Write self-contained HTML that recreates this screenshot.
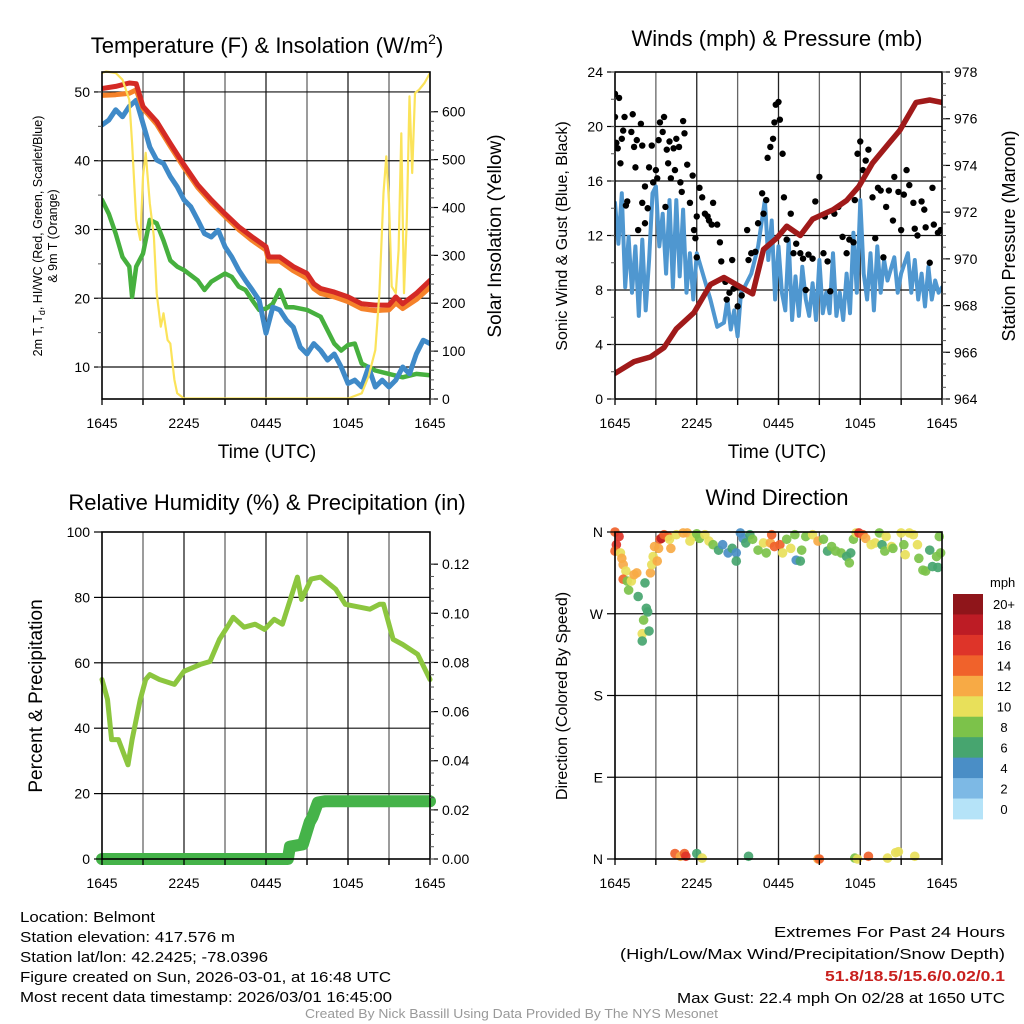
<!DOCTYPE html>
<html><head><meta charset="utf-8"><style>
html,body{margin:0;padding:0;background:#fff}
svg{display:block;font-family:"Liberation Sans",Arial,sans-serif}
</style></head><body>
<svg id="fig" width="1024" height="1024" viewBox="0 0 1024 1024" xmlns="http://www.w3.org/2000/svg">
<rect width="1024" height="1024" fill="#fff"/>
<g id="layer"></g>
<text x="267" y="53" text-anchor="middle" font-size="22">Temperature (F) &amp; Insolation (W/m<tspan font-size="14" dy="-9">2</tspan><tspan dy="9">)</tspan></text>
<text x="777" y="46" text-anchor="middle" font-size="22">Winds (mph) &amp; Pressure (mb)</text>
<text x="267" y="510" text-anchor="middle" font-size="22">Relative Humidity (%) &amp; Precipitation (in)</text>
<text x="777" y="505" text-anchor="middle" font-size="22">Wind Direction</text>
<text x="267" y="458" text-anchor="middle" font-size="19">Time (UTC)</text>
<text x="777" y="458" text-anchor="middle" font-size="19">Time (UTC)</text>
<text transform="translate(42,236) rotate(-90)" text-anchor="middle" font-size="12.5">2m T, T<tspan font-size="9" dy="3">d</tspan><tspan dy="-3">, HI/WC (Red, Green, Scarlet/Blue)</tspan></text>
<text transform="translate(57,236) rotate(-90)" text-anchor="middle" font-size="12.5">&amp; 9m T (Orange)</text>
<text transform="translate(501,236) rotate(-90)" text-anchor="middle" font-size="19">Solar Insolation (Yellow)</text>
<text transform="translate(567,236) rotate(-90)" text-anchor="middle" font-size="16">Sonic Wind &amp; Gust (Blue, Black)</text>
<text transform="translate(1015,236) rotate(-90)" text-anchor="middle" font-size="18">Station Pressure (Maroon)</text>
<text transform="translate(42,696) rotate(-90)" text-anchor="middle" font-size="19">Percent &amp; Precipitation</text>
<text transform="translate(567,696) rotate(-90)" text-anchor="middle" font-size="16">Direction (Colored By Speed)</text>
<g font-size="15">
<text x="20" y="922" textLength="135" lengthAdjust="spacingAndGlyphs">Location: Belmont</text>
<text x="20" y="942" textLength="215" lengthAdjust="spacingAndGlyphs">Station elevation: 417.576 m</text>
<text x="20" y="962" textLength="248" lengthAdjust="spacingAndGlyphs">Station lat/lon: 42.2425; -78.0396</text>
<text x="20" y="982" textLength="371" lengthAdjust="spacingAndGlyphs">Figure created on Sun, 2026-03-01, at 16:48 UTC</text>
<text x="20" y="1002" textLength="372" lengthAdjust="spacingAndGlyphs">Most recent data timestamp: 2026/03/01 16:45:00</text>
</g>
<g font-size="15" text-anchor="end">
<text x="1005" y="937" textLength="231" lengthAdjust="spacingAndGlyphs">Extremes For Past 24 Hours</text>
<text x="1005" y="959" textLength="385" lengthAdjust="spacingAndGlyphs">(High/Low/Max Wind/Precipitation/Snow Depth)</text>
<text x="1005" y="981" fill="#c8201e" font-weight="bold" textLength="180" lengthAdjust="spacingAndGlyphs">51.8/18.5/15.6/0.02/0.1</text>
<text x="1005" y="1003" textLength="328" lengthAdjust="spacingAndGlyphs">Max Gust: 22.4 mph On 02/28 at 1650 UTC</text>
</g>
<text x="305" y="1018" font-size="12.5" fill="#999" textLength="413" lengthAdjust="spacingAndGlyphs">Created By Nick Bassill Using Data Provided By The NYS Mesonet</text>
</svg>
<script>
// ---------- DATA ----------
const timeTicks = ["1645","2245","0445","1045","1645"];
const tempTicks = [10,20,30,40,50];
const solarTicks = [0,100,200,300,400,500,600];
const windTicks = [0,4,8,12,16,20,24];
const presTicks = [964,966,968,970,972,974,976,978];
const rhTicks = [0,20,40,60,80,100];
const precipTicks = [0,0.02,0.04,0.06,0.08,0.10,0.12];
const precipTickLabels = ["0.00","0.02","0.04","0.06","0.08","0.10","0.12"];
const dirTicks = [0,90,180,270,360];
const dirTickLabels = ["N","E","S","W","N"];
const speedBins = ["0","2","4","6","8","10","12","14","16","18","20+"];
const speedColors = ["#b5e3f8","#7db9e5","#4a8ec6","#47a56f","#7cc24a","#e8e05a","#f7aa45","#f0622b","#de3429","#bd1c25","#8f151a"];

const tempH = [0,1,2,2.5,3,4,5,6,7,8,9,10,11,12,12.2,13,14,15,15.5,16,17,18,19,20,21,21.5,22,23,24];
const tempT = [50.5,50.8,51.3,51.2,47.9,45.7,42.5,39.4,36.5,34.3,32.3,30.4,28.9,27.5,26,26,24.6,23.6,22.1,21.4,20.9,20.2,19.2,19,19,20.2,19.2,20.7,22.6];
const temp9 = [49.5,49.6,49.8,50.3,47.6,45.3,42.1,39.0,36.1,33.9,31.9,30.0,28.4,27.0,25.4,25.4,24.0,22.9,21.4,20.7,20.2,19.5,18.5,18.2,18.3,19.3,18.5,19.8,21.6];
const hiH = [0,0.5,1,1.5,2,2.5,3,3.5,4,4.5,5,5.5,6,6.5,7,7.5,8,8.5,9,9.5,10,10.5,11,11.5,12,12.5,13,13.5,14,14.5,15,15.5,16,16.5,17,17.5,18,18.5,19,19.5,20,20.5,21,21.5,22,22.5,23,23.5,24];
const hiWC = [45.2,45.9,47.4,46.4,47.9,48.8,45.4,42,40.1,39.6,37.7,36.2,34.3,33.3,31.4,29.4,28.9,29.9,27.5,26,24.1,22.6,21.2,19.7,14.9,18.7,18.3,16.8,15.8,12.9,11.9,13.4,12.4,11,11.9,10,7.6,8.1,7.1,10,7.1,8.1,7.1,8.1,10,9,11.9,13.9,13.4];
const tdH = [0,0.5,1,1.5,2,2.2,2.5,3,3.5,4,4.5,5,5.5,6,7,7.5,8,9,9.5,10,10.5,11,11.5,12,12.5,13,13.5,14,15,16,17,17.5,18,18.5,19,20,21,22,23,24];
const tdT = [34.3,32.3,29.4,26,24.6,20.2,24.6,26.5,31.4,30.9,28.4,25.5,24.6,24.1,22.6,21.2,22.4,23.6,23.1,21.7,21.2,19.7,18.3,18.5,19.2,21.2,18.7,18.7,18.3,17.3,13.4,12.4,13.2,13.4,10.5,9.5,9,8.5,9,8.8];
const solH = [0,0.3,1,1.5,2,2.2,2.5,2.8,3,3.2,3.5,3.8,4,4.3,4.5,4.8,5,5.3,5.5,6,18,19,19.5,20,20.3,20.6,20.8,21,21.2,21.5,21.7,21.9,22.1,22.3,22.5,22.7,22.9,23.2,23.6,24];
const solW = [681,684,681,667,625,534,374,332,465,514,409,339,221,151,179,123,116,40,12,1,1,12,47,102,221,430,507,409,235,221,311,555,221,374,632,472,639,646,660,681];

const windH = [0,0.25,0.5,0.75,1,1.25,1.5,1.75,2,2.25,2.5,2.75,3,3.25,3.5,3.75,4,4.25,4.5,4.75,5,5.25,5.5,5.75,6,6.5,7,7.5,8,8.25,8.5,8.75,9,9.25,9.5,10,10.5,11,11.25,11.5,11.75,12,12.25,12.5,12.75,13,13.25,13.5,13.75,14,14.25,14.5,14.75,15,15.25,15.5,15.75,16,16.25,16.5,16.75,17,17.25,17.5,17.75,18,18.25,18.5,18.75,19,19.25,19.5,19.75,20,20.5,20.75,21,21.5,21.75,22,22.25,22.5,22.75,23,23.25,23.5,23.75,24];
const windS = [14.4,11.4,15.1,8.2,11.9,7.8,11.2,6.1,11.7,6.5,10.2,15.1,15.6,11.2,13.6,9.2,14.6,8.2,14.6,9,13.9,7.8,10.7,7.3,10.7,9,7.3,5.3,5.6,7.3,5.1,6.5,4.6,7.8,8.2,9.2,11.2,14.6,10.2,13.1,7.3,11.2,7.8,6.5,11.7,5.8,9,6.1,9.7,7.3,6.1,8.5,5.8,10.2,6.3,7.8,6.3,10.7,6.1,7.8,5.8,9.2,6.3,12.2,7.8,14.6,9.2,7.3,10.7,6.5,11.2,7.8,10.2,8.7,10.4,7.8,9.2,10.7,7.8,10.2,7.3,9.2,6.8,9.7,7.3,8.7,7.8,8.2];
const gustH = [0,0.3,0,0.1,0.2,0.4,0.5,0.6,0.7,0.8,0.9,1.2,1.3,1.4,1.5,1.6,1.7,1.9,2,2,2.2,2.2,2.4,2.5,2.7,2.8,3,3.1,3.2,3.3,3.5,3.6,3.7,3.8,3.9,4,4.1,4.3,4.4,4.5,4.7,4.8,4.9,5,5.1,5.3,5.5,5.7,5.8,5.9,6,6,6.2,6.4,6.6,6.8,6.9,7.1,7.2,7.5,7.7,7.8,8.1,8.2,8.4,8.6,8.7,8.9,9,9.3,9.7,9.8,10,10.3,10.5,10.8,10.9,11.1,11.2,11.4,11.6,11.7,11.8,12,12.1,12.3,12.4,12.6,12.9,13.1,13.3,13.6,13.8,14,14.2,14.5,14.7,15,15.3,15.4,15.6,15.8,16.1,16.4,16.7,17,17.2,17.5,17.6,17.8,18,18.2,18.4,18.6,18.9,19.1,19.3,19.5,19.7,19.9,20.1,20.4,20.5,20.8,21,21.2,21.4,21.6,21.9,22,22.2,22.5,22.7,22.8,23.1,23.3,23.4,23.7,23.9];
const gustS = [22.4,22.1,20.7,18.8,18.4,17.3,19.1,19.7,20.7,14.2,14.5,19.6,20.9,18.5,17,19,12.4,20.2,14.4,18.6,12.9,15.6,14,17,18.6,15.9,16.8,16.2,19,20.3,19.6,20.7,14.1,18.3,17.3,18.9,16.2,18.4,16.8,19.1,18.5,15.9,15.2,20.4,19.5,17.2,14.4,16.4,12.4,11.8,13.4,10.4,15.5,14.8,13.6,13.4,13.1,12.8,14.4,12.8,11.5,10.1,8.6,7.3,7.8,10.2,8.1,8.2,6.8,7.6,12.4,10.2,10.7,10.8,12.9,15.1,13.6,14.6,17.7,18.5,19.1,20.3,21.6,21.8,20.5,18,14.8,11.7,13.6,10.7,11.4,10.7,10.3,8,10.6,10.3,14.5,16.3,10.7,13.4,10.1,7.9,13.6,14.1,11.9,10.7,11.7,11.5,14.6,18,18.9,16.8,17.5,18.3,14.8,11.8,15.5,15.3,10.4,14.1,15.3,13.1,16.3,15.2,12.4,15,16.8,15.7,14.4,12.5,12,14.5,13.9,12.6,10,15.5,12.8,12.2,12.4];
const presH = [0,1.4,2.6,3.6,4.5,5.8,7,8,9.2,10.1,10.9,11.9,12.6,13.6,14.5,16,17,17.9,18.9,19.9,20.9,22.1,23.1,24];
const presMb = [965.1,965.6,965.8,966.2,967,967.7,968.9,969.2,968.8,968.5,970.4,970.9,971.4,971,971.7,972.1,972.5,973.1,974.1,974.8,975.5,976.7,976.8,976.7];

const rhH = [0,0.4,0.7,1.2,1.9,2.2,2.8,3.2,3.5,4.2,5.3,6.0,7.2,7.9,8.6,9.3,9.6,10.4,11.2,11.9,12.6,13.2,13.9,14.3,14.6,15.3,16.0,17.1,17.8,19.6,20.3,20.6,21.3,22.0,23.1,24];
const rhPct = [54.9,48.8,36.5,36.5,28.8,36.5,48.8,54.9,56.4,54.9,53.4,57.4,59.5,60.4,67.2,71.8,73.9,70.9,71.8,70.2,73.3,71.8,81,86.2,79.4,85.6,86.2,82.5,77.9,76.4,77.9,77.9,67.2,65.6,62.6,54.9];
const prH = [0,13.6,13.75,14.7,15.2,15.4,15.8,16.3,24];
const prIn = [0,0,0.005,0.006,0.015,0.017,0.023,0.0235,0.0235];

const dirH = [0,0.3,0.1,0,0.4,0.5,0.6,0.8,0.6,0.9,1,1.2,1.4,1.6,1.7,2.2,2.3,2.4,2.1,2,2,2.5,2.6,2.7,2.8,2.9,3.1,3.2,3.3,3.4,3.6,3.9,4.1,4,4.5,5,5.3,5.5,5.8,6,6.2,6.6,6.9,7.2,7.6,7.9,8.3,8.6,8.9,8.9,9.2,9.4,9.6,9.9,10.1,10.5,10.9,11.1,11.4,11.5,11.7,12.1,12.3,12.6,12.9,13.2,13.3,13.6,13.7,14,14.5,14.9,15.3,15.6,15.9,16.2,16.6,17,17.2,17.3,17.5,17.7,17.9,18.2,18.4,18.8,19.1,19.4,19.6,19.8,19.9,20.3,20.4,21,21.2,21.3,21.6,21.9,22.2,22.3,22.6,22.8,23.1,23.3,23.6,23.7,23.8,23.9,4.4,4.8,5.1,5.2,6,6.4,9.8,14.9,15,17.6,17.8,18.6,20,20.6,20.8,22];
const dirDeg = [360,355,346,339,337,331,324,317,308,306,296,306,313,315,289,304,276,272,263,248,240,251,315,324,333,344,328,342,352,353,357,355,342,352,357,359,359,350,355,358,353,357,350,346,340,346,337,342,337,328,359,353,348,357,352,340,348,337,348,357,344,346,337,352,342,357,329,328,340,355,357,350,352,339,344,339,337,333,326,337,352,359,359,357,353,346,348,359,346,339,355,344,342,359,346,335,359,357,346,331,318,317,340,322,333,321,355,337,6,3,6,3,6,1,3,0,0,1,0,3,1,7,8,3];
const dirSpd = [15,16,16,15,10,12,12,10,15,9,8,10,12,12,7,6,6,6,8,10,6,6,12,10,10,12,12,12,14,18,15,15,12,10,10,12,12,10,10,8,8,10,10,8,6,4,4,6,4,6,4,4,6,6,8,8,10,8,12,15,14,15,10,8,10,8,4,6,8,8,10,12,8,6,8,8,8,6,8,6,8,10,16,15,12,10,10,8,6,8,10,10,8,10,8,10,10,10,10,8,8,8,6,6,8,6,8,8,15,12,15,16,6,10,6,12,14,8,10,14,10,10,10,10];

// ---------- DRAWING ----------
const NS = "http://www.w3.org/2000/svg";
const layer = document.getElementById('layer');
function mk(tag, attrs, parent){ const e=document.createElementNS(NS,tag); for(const k in attrs) e.setAttribute(k,attrs[k]); (parent||layer).appendChild(e); return e; }
function lin(d0,d1,r0,r1){ return v => r0 + (v-d0)/(d1-d0)*(r1-r0); }

const P1={x0:102,x1:430,y0:72,y1:399}, P2={x0:615,x1:942,y0:72,y1:399}, P3={x0:102,x1:430,y0:532,y1:859}, P4={x0:615,x1:942,y0:532,y1:859};

function frame(P, name, hTicks, yScale){
  const g = mk('g',{});
  
  
  const xs = lin(0,24,P.x0,P.x1);
  for(let h=3; h<24; h+=3){
    mk('line',{x1:xs(h),x2:xs(h),y1:P.y0,y2:P.y1+6,stroke:(h%6===0)?'#222':'#666','stroke-width':1.3},g);
  }
  hTicks.forEach(v=>{ const y=yScale(v); if(y>P.y0+1 && y<P.y1-1) mk('line',{x1:P.x0,x2:P.x1,y1:y,y2:y,stroke:'#111','stroke-width':1.2},g); });
  return xs;
}
function border(P,name){
  const r = mk('rect',{x:P.x0,y:P.y0,width:P.x1-P.x0,height:P.y1-P.y0,fill:'none',stroke:'#000','stroke-width':1.6});
  
  
}
function xAxis(P,name){
  const xs = lin(0,24,P.x0,P.x1);
  const g = mk('g',{'font-size':14,'text-anchor':'middle'});
  
  
  for(let h=0; h<=24; h+=3) mk('line',{x1:xs(h),x2:xs(h),y1:P.y1,y2:P.y1+6,stroke:'#000','stroke-width':1.3},g);
  timeTicks.forEach((t,i)=>{ const tx=mk('text',{x:xs(i*6),y:P.y1+29},g); tx.textContent=t; });
}
function yAxis(P,name,ticks,labels,scale,side,minorStep){
  const g = mk('g',{'font-size':14,'text-anchor':side==='left'?'end':'start'});
  
  
  const x = side==='left'?P.x0:P.x1, s = side==='left'?-1:1;
  ticks.forEach((v,i)=>{ const y=scale(v);
    mk('line',{x1:x,x2:x+s*8,y1:y,y2:y,stroke:'#000','stroke-width':1.2},g);
    const t=mk('text',{x:x+s*12,y:y+5},g); t.textContent = labels?labels[i]:String(v); });
  if(minorStep){ const a=ticks[0], b=ticks[ticks.length-1];
    for(let v=a; v<=b+1e-9; v+=minorStep){ const y=scale(v); if(y>=P.y0-0.5&&y<=P.y1+0.5) mk('line',{x1:x,x2:x+s*4,y1:y,y2:y,stroke:'#555','stroke-width':1},g);} }
}
function path(hs, vs, xs, ys){ return hs.map((h,i)=>(i?'L':'M')+xs(h).toFixed(1)+','+ys(vs[i]).toFixed(1)).join(''); }
function line(hs,vs,xs,ys,color,w,name,clip){
  const p = mk('path',{d:path(hs,vs,xs,ys),fill:'none',stroke:color,'stroke-width':w,'stroke-linejoin':'round','stroke-linecap':'round','clip-path':clip||''});
  
  
}
const defs = mk('defs',{});
[P1,P2,P3,P4].forEach((P,i)=>{ const c=mk('clipPath',{id:'c'+i},defs); mk('rect',{x:P.x0,y:P.y0-2,width:P.x1-P.x0,height:P.y1-P.y0+4},c); });

// Panel 1
const t1y = lin(5.35,52.9,P1.y1,P1.y0), s1y = lin(0,683,P1.y1,P1.y0);
const x1s = frame(P1,'temperature',tempTicks,t1y);
line(tdH,tdT,x1s,t1y,'#46b03e',4.5,'dewpoint-line','url(#c0)');
line(hiH,hiWC,x1s,t1y,'#3f8ac8',5,'heat-index-wind-chill-line','url(#c0)');
line(tempH,temp9,x1s,t1y,'#f5822a',5,'temperature-9m-line','url(#c0)');
line(tempH,tempT,x1s,t1y,'#d42a25',5,'temperature-2m-line','url(#c0)');
line(solH,solW,x1s,s1y,'#fbe35a',2.2,'solar-insolation-line','url(#c0)');
border(P1,'temperature');
xAxis(P1,'temperature');
yAxis(P1,'temperature-y-axis',tempTicks,null,t1y,'left',5);
yAxis(P1,'insolation-y-axis',solarTicks,null,s1y,'right',20);

// Panel 2
const w2y = lin(0,24,P2.y1,P2.y0), p2y = lin(964,978,P2.y1,P2.y0);
const x2s = frame(P2,'winds',windTicks,w2y);
line(windH,windS,x2s,w2y,'#4f97d0',4,'sonic-wind-line','url(#c1)');
const gg = mk('g',{'clip-path':'url(#c1)'});


gustH.forEach((h,i)=>{ const c=mk('circle',{cx:x2s(h),cy:w2y(gustS[i]),r:3.2,fill:'#000'},gg);
  
   });
line(presH,presMb,x2s,p2y,'#a01a1a',5.5,'pressure-line','url(#c1)');
border(P2,'winds');
xAxis(P2,'winds');
yAxis(P2,'wind-y-axis',windTicks,null,w2y,'left',2);
yAxis(P2,'pressure-y-axis',presTicks,null,p2y,'right',0.5);

// Panel 3
const r3y = lin(0,100,P3.y1,P3.y0), q3y = lin(0,0.1331,P3.y1,P3.y0);
const x3s = frame(P3,'humidity',rhTicks,r3y);
line(rhH,rhPct,x3s,r3y,'#8cc63f',5,'relative-humidity-line');
line(prH,prIn,x3s,q3y,'#45b349',12,'precipitation-line');
border(P3,'humidity');
xAxis(P3,'humidity');
yAxis(P3,'humidity-y-axis',rhTicks,null,r3y,'left',null);
yAxis(P3,'precipitation-y-axis',precipTicks,precipTickLabels,q3y,'right',0.005);

// Panel 4
const d4y = lin(0,360,P4.y1,P4.y0);
const x4s = frame(P4,'wind-direction',dirTicks,d4y);
const dg = mk('g',{});


dirH.forEach((h,i)=>{ const bin=Math.min(10,Math.floor(dirSpd[i]/2));
  const c=mk('circle',{cx:x4s(h),cy:d4y(dirDeg[i]),r:4.8,fill:speedColors[bin],'fill-opacity':0.92},dg);
  
   });
border(P4,'wind-direction');
xAxis(P4,'wind-direction');
yAxis(P4,'direction-y-axis',dirTicks,dirTickLabels,d4y,'left',null);

// colorbar
const cb = mk('g',{'font-size':13});


const cbTop=594, cbH=225/11;
const ut = mk('text',{x:990,y:587,'text-anchor':'start'},cb); ut.textContent='mph';
for(let i=0;i<speedBins.length;i++){
  const k = speedBins.length-1-i;
  const r = mk('rect',{x:953,y:cbTop+i*cbH,width:30,height:cbH+0.4,fill:speedColors[k]},cb);
  
  
  const t = mk('text',{x:1004,y:cbTop+i*cbH+cbH/2+5,'text-anchor':'middle'},cb); t.textContent=speedBins[k];
}
</script>
</body></html>
